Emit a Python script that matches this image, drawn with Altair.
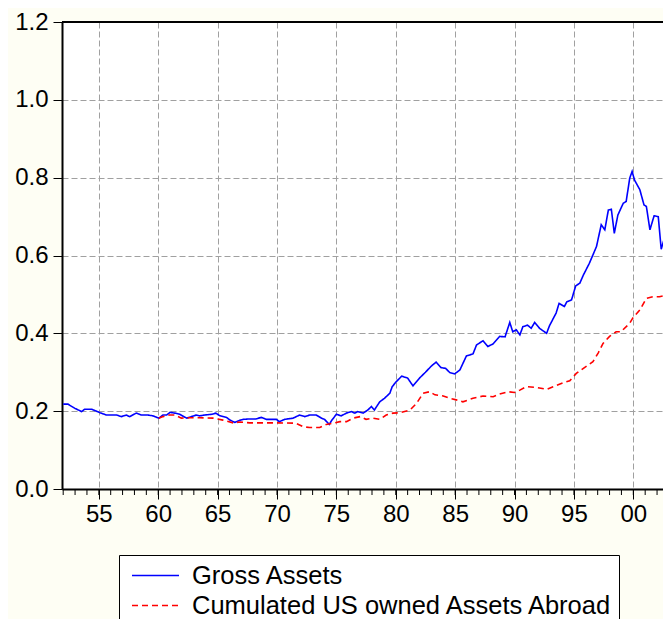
import altair as alt
import pandas as pd

series_names = ["Gross Assets", "Cumulated US owned Assets Abroad"]

gross_years = [1952.0, 1952.4, 1953.0, 1953.55, 1953.8, 1954.4, 1955.1, 1955.65, 1956.5, 1956.9,
               1957.3, 1957.6, 1958.15, 1958.6, 1959.15, 1959.55, 1960.05, 1960.4, 1960.7, 1961.0,
               1961.4, 1961.8, 1962.4, 1962.8, 1963.2, 1963.5, 1963.9, 1964.5, 1964.85, 1965.2,
               1965.75, 1966.0, 1966.45, 1966.9, 1967.15, 1967.7, 1968.2, 1968.7, 1969.1, 1969.95,
               1970.2, 1970.65, 1971.35, 1971.9, 1972.35, 1972.75, 1973.3, 1973.75, 1974.0, 1974.4,
               1974.6, 1975.0, 1975.4, 1975.85, 1976.25, 1976.55, 1976.8, 1977.25, 1977.65, 1977.95,
               1978.2, 1978.65, 1979.05, 1979.5, 1979.7, 1980.05, 1980.5, 1981.0, 1981.45, 1982.0,
               1982.5, 1983.0, 1983.4, 1983.8, 1984.2, 1984.55, 1984.97, 1985.4, 1985.95, 1986.5,
               1986.8, 1987.35, 1987.75, 1988.2, 1988.75, 1989.2, 1989.6, 1989.85, 1990.15, 1990.45,
               1990.7, 1991.1, 1991.4, 1991.7, 1992.1, 1992.7, 1992.95, 1993.5, 1993.75, 1994.2,
               1994.4, 1994.8, 1995.15, 1995.5, 1995.8, 1996.3, 1996.9, 1997.3, 1997.6, 1997.9,
               1998.15, 1998.4, 1998.7, 1999.15, 1999.4, 1999.7, 1999.9, 2000.1, 2000.55, 2000.9,
               2001.1, 2001.4, 2001.75, 2002.1, 2002.35, 2002.7, 2003.0, 2003.2]
gross_values = [0.218, 0.218, 0.207, 0.199, 0.205, 0.205, 0.196, 0.190, 0.190, 0.186,
                0.190, 0.186, 0.195, 0.190, 0.190, 0.188, 0.182, 0.190, 0.190, 0.197,
                0.195, 0.192, 0.182, 0.186, 0.190, 0.188, 0.190, 0.192, 0.195, 0.188,
                0.184, 0.178, 0.171, 0.177, 0.179, 0.180, 0.180, 0.184, 0.179, 0.179,
                0.173, 0.179, 0.182, 0.190, 0.186, 0.190, 0.190, 0.182, 0.179, 0.166,
                0.176, 0.192, 0.188, 0.195, 0.199, 0.195, 0.199, 0.195, 0.203, 0.212,
                0.203, 0.224, 0.233, 0.246, 0.263, 0.276, 0.290, 0.285, 0.265, 0.285,
                0.300, 0.316, 0.326, 0.312, 0.310, 0.299, 0.296, 0.306, 0.342, 0.347,
                0.370, 0.381, 0.366, 0.373, 0.392, 0.391, 0.428, 0.404, 0.409, 0.396,
                0.417, 0.421, 0.413, 0.428, 0.413, 0.400, 0.420, 0.452, 0.477, 0.469,
                0.481, 0.486, 0.522, 0.529, 0.550, 0.580, 0.623, 0.679, 0.666, 0.717,
                0.719, 0.657, 0.704, 0.734, 0.739, 0.799, 0.816, 0.794, 0.769, 0.730,
                0.726, 0.666, 0.702, 0.700, 0.616, 0.653, 0.632, 0.696]

cum_years = [1960.05, 1960.4, 1960.95, 1961.4, 1961.95, 1962.65, 1963.5, 1964.6, 1965.45, 1966.3,
             1966.9, 1967.7, 1969.95, 1971.6, 1972.2, 1972.75, 1973.6, 1974.15, 1974.7, 1975.3,
             1975.85, 1976.4, 1977.0, 1977.5, 1978.1, 1978.65, 1979.2, 1979.75, 1980.35, 1981.2,
             1981.75, 1982.3, 1982.85, 1983.3, 1984.0, 1984.55, 1985.1, 1985.65, 1986.5, 1987.35,
             1988.2, 1988.75, 1989.45, 1990.0, 1990.45, 1991.0, 1991.85, 1992.7, 1993.25, 1994.1,
             1994.65, 1995.2, 1995.8, 1996.6, 1997.05, 1997.45, 1998.0, 1998.55, 1998.95, 1999.7,
             1999.95, 2000.55, 2001.1, 2001.65, 2002.2, 2002.65, 2003.1]
cum_values = [0.182, 0.186, 0.190, 0.190, 0.182, 0.183, 0.183, 0.182, 0.177, 0.170,
              0.172, 0.170, 0.170, 0.169, 0.160, 0.158, 0.158, 0.166, 0.169, 0.173,
              0.173, 0.182, 0.186, 0.179, 0.182, 0.179, 0.190, 0.195, 0.196, 0.203,
              0.220, 0.246, 0.250, 0.242, 0.239, 0.233, 0.229, 0.224, 0.233, 0.239,
              0.237, 0.244, 0.250, 0.248, 0.254, 0.263, 0.261, 0.256, 0.263, 0.273,
              0.278, 0.297, 0.310, 0.327, 0.350, 0.374, 0.392, 0.404, 0.404, 0.426,
              0.439, 0.460, 0.490, 0.494, 0.494, 0.497, 0.499]

x_major = [1955, 1960, 1965, 1970, 1975, 1980, 1985, 1990, 1995, 2000]
x_minor = list(range(1952, 2003))
y_ticks = [0.0, 0.2, 0.4, 0.6, 0.8, 1.0, 1.2]

df = pd.concat([
    pd.DataFrame({"year": gross_years, "value": gross_values, "series": series_names[0]}),
    pd.DataFrame({"year": cum_years, "value": cum_values, "series": series_names[1]}),
], ignore_index=True)
df["order"] = range(len(df))

W, H = 601, 467
FONT = "Liberation Sans"
x_scale = alt.Scale(domain=[1951.9, 2002.5], nice=False, zero=False)
y_scale = alt.Scale(domain=[0, 1.2], nice=False)

leg = alt.Legend(
    title=None, orient="none", legendX=57, legendY=533, direction="vertical",
    symbolType="stroke", symbolSize=2209, symbolStrokeWidth=1.5,
    labelFont=FONT, labelFontSize=25.5, labelColor="black", labelOffset=12, labelLimit=0,
    clipHeight=29, rowPadding=1, padding=6, symbolOffset=6,
    strokeColor="black", fillColor="white", cornerRadius=0,
)

lines = alt.Chart(df).mark_line(strokeWidth=1.6, clip=True).encode(
    x=alt.X("year:Q", scale=x_scale, title=None,
            axis=alt.Axis(values=x_major, grid=True,
                          labelExpr="(datum.value % 100) < 10 ? '0' + (datum.value % 100) : '' + (datum.value % 100)",
                          labelFont=FONT, labelFontSize=24, labelColor="black", labelPadding=3,
                          tickSize=10, tickColor="black", tickWidth=1,
                          domainColor="black", domainWidth=2,
                          gridColor="#A0A0A0", gridDash=[6, 3], gridWidth=1)),
    y=alt.Y("value:Q", scale=y_scale, title=None,
            axis=alt.Axis(values=y_ticks, format=".1f", grid=True,
                          labelFont=FONT, labelFontSize=24, labelColor="black", labelPadding=5,
                          tickSize=9, tickColor="black", tickWidth=1,
                          domainColor="black", domainWidth=2,
                          gridColor="#A0A0A0", gridDash=[6, 3], gridWidth=1)),
    color=alt.Color("series:N", scale=alt.Scale(domain=series_names, range=["#0000FF", "#FF0000"]), legend=leg),
    strokeDash=alt.StrokeDash("series:N", scale=alt.Scale(domain=series_names, range=[[1, 0], [6, 4]]), legend=leg),
    order="order:Q",
)

minor = alt.Chart(pd.DataFrame({"year": x_minor})).mark_rule(color="black", strokeWidth=1).encode(
    x=alt.X("year:Q", scale=x_scale),
    y=alt.value(H),
    y2=alt.value(H + 6),
)

top = alt.Chart(pd.DataFrame({"v": [1.2]})).mark_rule(color="black", strokeWidth=2).encode(
    y=alt.Y("v:Q", scale=y_scale),
)

chart = alt.layer(lines, minor, top).properties(
    width=W, height=H,
    autosize=alt.AutoSizeParams(type="none"),
    padding={"left": 54, "top": 14, "right": 0, "bottom": 130},
).configure(background="#FEFEF4").configure_view(fill="white", stroke=None)

chart.save("out.html", embed_options={"renderer": "svg", "actions": False})
